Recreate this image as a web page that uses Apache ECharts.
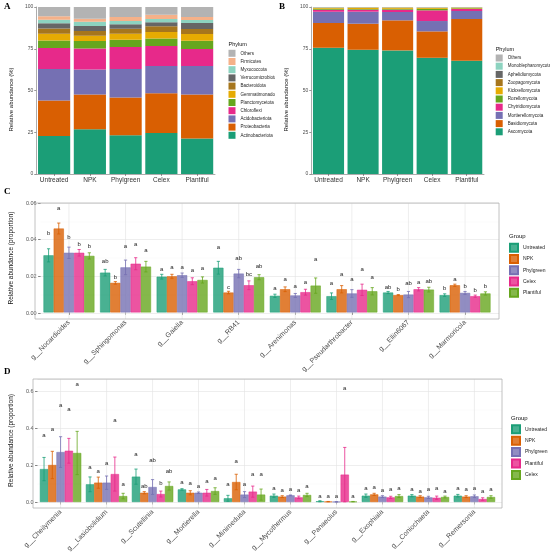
<!DOCTYPE html>
<html>
<head>
<meta charset="utf-8">
<script src="https://cdn.jsdelivr.net/npm/echarts@6.0.0/dist/echarts.min.js"></script>
<style>
html, body { margin: 0; padding: 0; background: #fff; }
#wrap { position: relative; width: 550px; height: 555px; }
.panel { position: absolute; }
</style>
</head>
<body>
<div id="wrap">
  <div id="chartA" class="panel" style="left:0;top:0;width:275px;height:190px"></div>
  <div id="chartB" class="panel" style="left:275px;top:0;width:275px;height:190px"></div>
  <div id="chartC" class="panel" style="left:0;top:185px;width:550px;height:190px"></div>
  <div id="chartD" class="panel" style="left:0;top:365px;width:550px;height:190px"></div>
</div>
<script>
var FONT = '"Liberation Sans", Arial, sans-serif';

// ---- A: bacterial phyla, relative abundance (%) ----
var treatments = ['Untreated', 'NPK', 'Phylgreen', 'Celex', 'Plantiful'];
var phylaA = ['Actinobacteriota', 'Proteobacteria', 'Acidobacteriota', 'Chloroflexi',
  'Planctomycetota', 'Gemmatimonadota', 'Bacteroidota', 'Verrucomicrobiota',
  'Myxococcota', 'Firmicutes', 'Others'];
var abundA = [
  [22.8, 26.8, 23.2, 24.6, 21.2],
  [21.2, 20.8, 22.6, 23.8, 26.4],
  [18.8, 15.0, 17.0, 16.2, 17.0],
  [12.6, 12.6, 13.2, 12.0, 10.2],
  [4.6, 4.4, 4.4, 4.6, 5.0],
  [4.0, 3.2, 3.6, 3.8, 4.0],
  [3.2, 2.8, 3.0, 3.4, 3.0],
  [3.0, 3.0, 2.6, 2.4, 3.6],
  [2.2, 2.6, 2.0, 2.0, 1.8],
  [2.0, 1.8, 2.4, 2.6, 1.8],
  [5.6, 7.0, 6.0, 4.6, 6.0]
];
var colorsA = ['#1b9e77', '#d95f02', '#7570b3', '#e7298a', '#66a61e', '#e6ab02',
  '#a6761d', '#666666', '#8dd3c0', '#f5b189', '#b3b3b3'];

// ---- B: fungal phyla, relative abundance (%) ----
var phylaB = ['Ascomycota', 'Basidiomycota', 'Mortierellomycota', 'Chytridiomycota',
  'Rozellomycota', 'Kickxellomycota', 'Zoopagomycota', 'Aphelidiomycota',
  'Monoblepharomycota', 'Others'];
var abundB = [
  [75.6, 74.4, 74.0, 69.6, 67.8],
  [14.8, 15.6, 18.0, 15.8, 25.0],
  [6.8, 7.2, 5.0, 6.2, 4.8],
  [1.2, 1.2, 1.4, 6.4, 1.2],
  [0.5, 0.4, 0.5, 0.9, 0.4],
  [0.6, 0.8, 0.7, 0.6, 0.4],
  [0.1, 0.1, 0.1, 0.1, 0.1],
  [0.1, 0.1, 0.1, 0.1, 0.1],
  [0.1, 0.1, 0.1, 0.1, 0.1],
  [0.2, 0.1, 0.1, 0.2, 0.1]
];
var colorsB = ['#1b9e77', '#d95f02', '#7570b3', '#e7298a', '#66a61e', '#e6ab02',
  '#a6761d', '#666666', '#8dd3c0', '#b3b3b3'];

// ---- C: bacterial genera (proportion) ----
var generaC = ['g__Nocardioides', 'g__Sphingomonas', 'g__Gaiella', 'g__RB41',
  'g__Arenimonas', 'g__Pseudarthrobacter', 'g__Ellin6067', 'g__Marmoricola'];
var groupsC = ['Untreated', 'NPK', 'Phylgreen', 'Celex', 'Plantiful'];
var colorsC = ['#1b9e77', '#d95f02', '#7570b3', '#e7298a', '#66a61e'];
var meanC = [
  [0.0313, 0.0218, 0.0196, 0.0245, 0.0091, 0.0089, 0.0109, 0.0095],
  [0.0460, 0.0162, 0.0198, 0.0109, 0.0127, 0.0127, 0.0095, 0.0149],
  [0.0327, 0.0247, 0.0204, 0.0213, 0.0093, 0.0104, 0.0098, 0.0107],
  [0.0327, 0.0267, 0.0171, 0.0149, 0.0111, 0.0124, 0.0127, 0.0089],
  [0.0310, 0.0251, 0.0178, 0.0193, 0.0147, 0.0116, 0.0125, 0.0104]
];
var sdC = [
  [0.0036, 0.0018, 0.0013, 0.0035, 0.0009, 0.0018, 0.0006, 0.0007],
  [0.0030, 0.0007, 0.0011, 0.0007, 0.0013, 0.0020, 0.0003, 0.0006],
  [0.0031, 0.0040, 0.0012, 0.0023, 0.0011, 0.0021, 0.0017, 0.0008],
  [0.0018, 0.0033, 0.0019, 0.0024, 0.0016, 0.0031, 0.0009, 0.0006],
  [0.0017, 0.0029, 0.0017, 0.0014, 0.0042, 0.0020, 0.0013, 0.0009]
];
var lettersC = [
  ['b', 'ab', 'a', 'a', 'a', 'a', 'ab', 'b'],
  ['a', 'b', 'a', 'c', 'a', 'a', 'b', 'a'],
  ['b', 'a', 'a', 'ab', 'a', 'a', 'ab', 'b'],
  ['b', 'a', 'a', 'bc', 'a', 'a', 'a', 'b'],
  ['b', 'a', 'a', 'ab', 'a', 'a', 'ab', 'b']
];
var letterYC = [
  [0.0436, 0.0280, 0.0236, 0.0356, 0.0133, 0.0162, 0.0140, 0.0133],
  [0.0573, 0.0195, 0.0247, 0.0140, 0.0180, 0.0207, 0.0124, 0.0180],
  [0.0409, 0.0364, 0.0249, 0.0295, 0.0145, 0.0180, 0.0160, 0.0145],
  [0.0376, 0.0371, 0.0231, 0.0209, 0.0164, 0.0236, 0.0164, 0.0122],
  [0.0364, 0.0342, 0.0244, 0.0251, 0.0289, 0.0191, 0.0173, 0.0145]
];

// ---- D: fungal genera (proportion) ----
var generaD = ['g__Cheilymenia', 'g__Lasiobolidium', 'g__Scutellinia', 'g__Mortierella',
  'g__Minimedusa', 'g__Mycothermus', 'g__Panaeolus', 'g__Exophiala',
  'g__Coniochaeta', 'g__Remersonia'];
var groupsD = ['Untreated', 'NPK', 'Phylgreen', 'Plantiful', 'Celex'];
var colorsD = ['#1b9e77', '#d95f02', '#7570b3', '#e7298a', '#66a61e'];
var meanD = [
  [0.178, 0.0955, 0.137, 0.068, 0.020, 0.034, 0.004, 0.034, 0.034, 0.034],
  [0.200, 0.1045, 0.050, 0.050, 0.108, 0.029, 0.002, 0.041, 0.029, 0.029],
  [0.270, 0.1045, 0.081, 0.050, 0.040, 0.036, 0.001, 0.029, 0.025, 0.031],
  [0.277, 0.151, 0.043, 0.050, 0.056, 0.025, 0.148, 0.025, 0.023, 0.016],
  [0.265, 0.032, 0.0865, 0.059, 0.040, 0.038, 0.002, 0.032, 0.027, 0.027]
];
var sdD = [
  [0.063, 0.040, 0.041, 0.004, 0.016, 0.009, 0.003, 0.009, 0.006, 0.007],
  [0.074, 0.030, 0.006, 0.011, 0.042, 0.005, 0.001, 0.006, 0.005, 0.005],
  [0.083, 0.036, 0.040, 0.004, 0.016, 0.002, 0.001, 0.005, 0.006, 0.007],
  [0.067, 0.092, 0.016, 0.018, 0.030, 0.007, 0.147, 0.006, 0.009, 0.007],
  [0.117, 0.015, 0.022, 0.018, 0.030, 0.009, 0.001, 0.008, 0.005, 0.007]
];
var lettersD = [
  ['a', 'a', 'a', 'a', 'a', 'a', 'a', 'a', 'a', 'a'],
  ['a', 'a', 'ab', 'a', 'a', 'a', 'a', 'a', 'a', 'a'],
  ['a', 'a', 'ab', 'a', 'a', 'a', 'a', 'a', 'a', 'a'],
  ['a', 'a', 'b', 'a', 'a', 'a', 'a', 'a', 'a', 'a'],
  ['a', 'a', 'ab', 'a', 'a', 'a', 'a', 'a', 'a', 'a']
];
var letterYD = [
  [0.358, 0.187, 0.258, 0.104, 0.097, 0.074, 0.032, 0.074, 0.068, 0.072],
  [0.395, 0.168, 0.083, 0.099, 0.222, 0.063, 0.032, 0.077, 0.059, 0.067],
  [0.523, 0.211, 0.225, 0.083, 0.095, 0.067, 0.032, 0.063, 0.067, 0.072],
  [0.502, 0.443, 0.101, 0.113, 0.150, 0.063, 0.613, 0.067, 0.072, 0.059],
  [0.636, 0.097, 0.164, 0.128, 0.150, 0.085, 0.032, 0.074, 0.059, 0.068]
];

function rgba(hex, a) {
  var n = parseInt(hex.slice(1), 16);
  return 'rgba(' + (n >> 16) + ',' + ((n >> 8) & 255) + ',' + (n & 255) + ',' + a + ')';
}

// stacked 100% bars (panels A and B)
function stackPanel(id, tag, taxa, colors, abund, L) {
    var chart = echarts.init(document.getElementById(id));
    var axisLine = {show: true, lineStyle: {color: '#888', width: 0.7}};
    var tick = {show: true, length: 2, lineStyle: {color: '#555', width: 0.6}};

    var series = taxa.map(function (name, i) {
        return {
            name: name, type: 'bar', stack: 'all', barCategoryGap: '10%',
            data: abund[i], itemStyle: {color: colors[i]}
        };
    });

    chart.setOption({
        animation: false,
        textStyle: {fontFamily: FONT},
        grid: {left: L.left, top: 7, width: L.width, height: 167},
        xAxis: {
            type: 'category', data: treatments,
            axisLine: axisLine,
            axisTick: {show: true, alignWithLabel: true, length: 2, lineStyle: tick.lineStyle},
            axisLabel: {interval: 0, fontSize: 6.5, color: '#333', margin: 3}
        },
        yAxis: {
            type: 'value', min: 0, max: 100, interval: 25,
            name: 'Relative abundance (%)', nameLocation: 'middle', nameGap: L.nameGap,
            nameTextStyle: {fontSize: 6, color: '#111', padding: [0, 18, 0, 0]},
            axisLine: axisLine, axisTick: tick,
            axisLabel: {fontSize: 5, color: '#4d4d4d', margin: 3},
            splitLine: {show: false}
        },
        legend: {
            orient: 'vertical', left: L.legLeft, top: L.legTop, padding: 0,
            itemWidth: 7, itemHeight: 7, itemGap: 1.2, icon: 'rect',
            selectedMode: false, data: taxa.slice().reverse(),
            textStyle: {fontSize: 4.5, color: '#222'}
        },
        graphic: [
            {type: 'text', left: 4, top: 2, style: {text: tag, font: 'bold 9px "Liberation Serif"', fill: '#000'}},
            {type: 'text', left: L.legLeft, top: L.titleTop, style: {text: 'Phylum', font: '5.5px ' + FONT, fill: '#111'}}
        ],
        series: series
    });
}

// grouped bars with error bars and letters (panels C and D)
function groupPanel(id, tag, genera, groups, colors, mean, sd, letters, letterY, L) {
    var chart = echarts.init(document.getElementById(id));
    var n = genera.length;
    var unit = L.width / (n + 0.2);
    var tick = {show: true, length: 2.5, lineStyle: {color: '#333', width: 0.6}};

    var series = [];
    // vertical grid lines at each genus
    series.push({
        type: 'custom', xAxisIndex: 1, yAxisIndex: 1, z: 1, silent: true,
        data: genera.map(function (g, i) { return [i, 0]; }),
        renderItem: function (params, api) {
            var x = api.coord([api.value(0), 0])[0];
            return {type: 'line', shape: {x1: x, y1: L.top, x2: x, y2: L.bottom},
                style: {stroke: '#e3e3e3', lineWidth: 0.6}};
        }
    });
    groups.forEach(function (name, g) {
        series.push({
            name: name, type: 'bar', xAxisIndex: 1, yAxisIndex: 1,
            barGap: '0%', barCategoryGap: '10%', data: mean[g],
            itemStyle: {color: rgba(colors[g], 0.8), borderColor: colors[g], borderWidth: 0.5}
        });
    });
    groups.forEach(function (name, g) {
        series.push({
            type: 'custom', xAxisIndex: 1, yAxisIndex: 1, z: 5, silent: true,
            data: genera.map(function (x, i) { return [i, mean[g][i], sd[g][i], letterY[g][i]]; }),
            encode: {x: 0, y: 1},
            renderItem: function (params, api) {
                var i = api.value(0), m = api.value(1), s = api.value(2);
                var band = api.size([1, 0])[0];
                var x = api.coord([i, 0])[0] + (-0.45 + 0.18 * (g + 0.5)) * band;
                var yHi = api.coord([i, m + s])[1];
                var yLo = api.coord([i, m - s])[1];
                var yL = api.coord([i, api.value(3)])[1];
                var st = {stroke: colors[g], lineWidth: 0.8};
                return {type: 'group', children: [
                    {type: 'line', shape: {x1: x, y1: yHi, x2: x, y2: yLo}, style: st},
                    {type: 'line', shape: {x1: x - 1.6, y1: yHi, x2: x + 1.6, y2: yHi}, style: st},
                    {type: 'line', shape: {x1: x - 1.6, y1: yLo, x2: x + 1.6, y2: yLo}, style: st},
                    {type: 'text', style: {text: letters[g][params.dataIndex], x: x, y: yL,
                        align: 'center', verticalAlign: 'middle', font: '6px ' + FONT, fill: '#222'}}
                ]};
            }
        });
    });

    chart.setOption({
        animation: false,
        textStyle: {fontFamily: FONT},
        grid: [
            {left: L.left, top: L.top, width: L.width, height: L.zero - L.top},
            {left: L.left + unit * 0.1, top: L.top, width: unit * n, height: L.zero - L.top}
        ],
        xAxis: [
            {gridIndex: 0, type: 'value', min: 0, max: 1, show: false},
            {
                gridIndex: 1, type: 'category', data: genera, offset: L.bottom - L.zero,
                axisLine: {show: false},
                axisTick: {show: true, alignWithLabel: true, length: 2.5, lineStyle: tick.lineStyle},
                axisLabel: {rotate: 45, interval: 0, margin: 3, fontSize: 7, color: '#4d4d4d'}
            }
        ],
        yAxis: [
            {
                gridIndex: 0, type: 'value', min: 0, max: L.max, interval: L.step,
                name: 'Relative abundance (proportion)', nameLocation: 'middle', nameGap: L.nameGap,
                nameTextStyle: {fontSize: 6.5, color: '#111'},
                axisLine: {show: false}, axisTick: tick,
                axisLabel: {fontSize: 5.5, color: '#4d4d4d', margin: 4, showMaxLabel: L.showMax,
                    formatter: function (v) { return v.toFixed(L.digits); }},
                splitLine: {show: true, lineStyle: {color: '#e3e3e3', width: 0.6}},
                minorTick: {show: false, splitNumber: 2},
                minorSplitLine: {show: true, lineStyle: {color: '#f3f3f3', width: 0.4}}
            },
            {gridIndex: 1, type: 'value', min: 0, max: L.max, show: false}
        ],
        legend: {
            orient: 'vertical', left: L.legLeft, top: L.legTop, padding: 0,
            itemWidth: 8, itemHeight: 8, itemGap: L.legGap, icon: 'rect',
            selectedMode: false, data: groups,
            textStyle: {fontSize: 5, color: '#222'}
        },
        graphic: [
            {type: 'text', left: 4, top: 2, style: {text: tag, font: 'bold 9px "Liberation Serif"', fill: '#000'}},
            {type: 'text', left: L.legLeft, top: L.titleTop, style: {text: 'Group', font: '6px ' + FONT, fill: '#111'}},
            {type: 'rect', z: 100, silent: true,
                shape: {x: L.left, y: L.top, width: L.width, height: L.bottom - L.top},
                style: {fill: 'none', stroke: '#b3b3b3', lineWidth: 0.8}}
        ],
        series: series
    });
}

stackPanel('chartA', 'A', phylaA, colorsA, abundA,
    {left: 33, width: 182, nameGap: 13, legLeft: 228.5, legTop: 49.8, titleTop: 41});
stackPanel('chartB', 'B', phylaB, colorsB, abundB,
    {left: 26, width: 183, nameGap: 13, legLeft: 220.7, legTop: 54.5, titleTop: 46});
groupPanel('chartC', 'C', generaC, groupsC, colorsC, meanC, sdC, lettersC, letterYC,
    {left: 35, width: 464, top: 18, zero: 128, bottom: 134, max: 0.06, step: 0.02, digits: 2,
     showMax: true, nameGap: 14, legLeft: 509, legTop: 57.7, legGap: 1.25, titleTop: 48});
groupPanel('chartD', 'D', generaD, groupsD, colorsD, meanD, sdD, lettersD, letterYD,
    {left: 33, width: 469, top: 14, zero: 137, bottom: 143, max: 0.665, step: 0.2, digits: 1,
     showMax: false, nameGap: 10, legLeft: 511, legTop: 59.3, legGap: 1.4, titleTop: 50});
</script>
</body>
</html>
